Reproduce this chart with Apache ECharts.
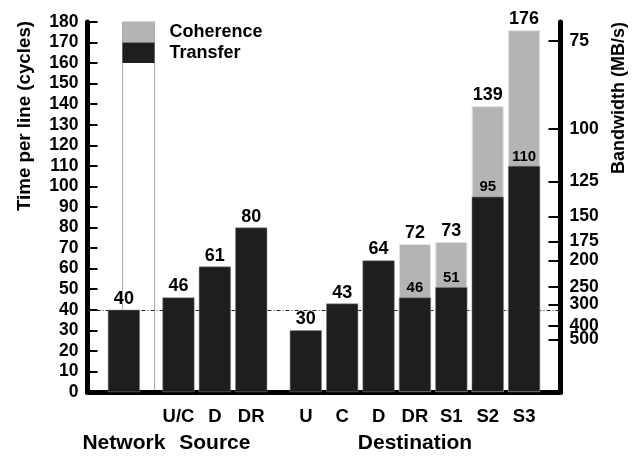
<!DOCTYPE html>
<html>
<head>
<meta charset="utf-8">
<script src="https://cdn.jsdelivr.net/npm/echarts@6/dist/echarts.min.js"></script>
<style>html,body{margin:0;padding:0;background:#fff}#c{width:634px;height:456px}</style>
</head>
<body>
<div id="c"></div>
<script>
// half-slot category positions (blank strings are spacing slots)
const categories = ['', '', '', '', '', 'U/C', '', 'D', '', 'DR', '', '', 'U', '', 'C', '', 'D', '', 'DR', '', 'S1', '', 'S2', '', 'S3', '', ''];
const groups     = ['', '', 'Network', '', '', '', '', 'Source', '', '', '', '', '', '', '', '', '', '', 'Destination', '', '', '', '', '', '', '', ''];
const transfer   = [null, null, 40, null, null, 46, null, 61, null, 80, null, null, 30, null, 43, null, 64, null, 46, null, 51, null, 95, null, 110, null, null];
const coherenceTotal = [null, null, null, null, null, null, null, null, null, null, null, null, null, null, null, null, null, null, 72, null, 73, null, 139, null, 176, null, null];
const bandwidthTicks = [75, 100, 125, 150, 175, 200, 250, 300, 400, 500];
const bandwidthConst = 12800; // MB/s * cycles
const referenceLine = 40;

const FONT = "'Liberation Sans', Arial, sans-serif";
const chart = echarts.init(document.getElementById('c'), null, {renderer: 'canvas'});
const toPos = b => bandwidthConst / b;
const bwPos = bandwidthTicks.map(toPos);
// labels 400 and 500 overlap in the original; put 400 on a second label layer
const bwPosMain = bandwidthTicks.filter(b => b !== 400).map(toPos);
const bwPosAlt = bandwidthTicks.filter(b => b === 400).map(toPos);

const transferData = transfer.map((v, i) => v == null ? null : {
  value: v,
  label: {fontSize: coherenceTotal[i] != null ? 15 : 18}
});

const rightLabel = {margin: 9, hideOverlap: false, fontFamily: FONT, fontWeight: 'bold', fontSize: 17.5, color: '#000',
  formatter: v => String(Math.round(bandwidthConst / v))};

chart.setOption({
  animation: false,
  backgroundColor: '#fff',
  textStyle: {fontFamily: FONT},
  grid: {left: 87.5, right: 73.5, top: 22, bottom: 64},
  legend: {
    data: ['Coherence', 'Transfer'],
    orient: 'vertical', left: 122.5, top: 22, padding: 0,
    itemWidth: 32, itemHeight: 20.5, itemGap: 0, icon: 'rect',
    itemStyle: {borderWidth: 0},
    selectedMode: false,
    textStyle: {fontFamily: FONT, fontWeight: 'bold', fontSize: 18, color: '#000', padding: [7, 0, 0, 10]}
  },
  graphic: [
    {type: 'rect', z: -1, shape: {x: 122.5, y: 22, width: 32, height: 370}, style: {fill: '#fff', stroke: '#aaa', lineWidth: 1}},
    {type: 'text', x: 25, y: 116, rotation: Math.PI / 2, scaleX: 1.04,
     style: {text: 'Time per line (cycles)', font: 'bold 18px ' + FONT, fill: '#000', align: 'center', verticalAlign: 'middle'}},
    {type: 'text', x: 619, y: 98, rotation: Math.PI / 2,
     style: {text: 'Bandwidth (MB/s)', font: 'bold 18px ' + FONT, fill: '#000', align: 'center', verticalAlign: 'middle'}}
  ],
  xAxis: [
    {type: 'category', data: categories, boundaryGap: false,
     axisLine: {show: true, lineStyle: {color: '#000', width: 5}},
     axisTick: {show: false},
     axisLabel: {interval: 0, margin: 15, fontFamily: FONT, fontWeight: 'bold', fontSize: 18.5, color: '#000'},
     splitLine: {show: false}},
    {type: 'category', data: groups, boundaryGap: false, position: 'bottom',
     axisLine: {show: false}, axisTick: {show: false},
     axisLabel: {interval: 0, margin: 41, fontFamily: FONT, fontWeight: 'bold', fontSize: 21, color: '#000'},
     splitLine: {show: false}}
  ],
  yAxis: [
    {type: 'value', min: 0, max: 180, interval: 10, position: 'left',
     axisLine: {show: true, lineStyle: {color: '#000', width: 5}},
     axisTick: {show: true, inside: true, length: 10, lineStyle: {color: '#000', width: 2}},
     axisLabel: {margin: 9, hideOverlap: false, showMinLabel: true, showMaxLabel: true, fontFamily: FONT, fontWeight: 'bold', fontSize: 17.5, color: '#000'},
     splitLine: {show: false}},
    {type: 'value', min: 0, max: 180, position: 'right',
     axisLine: {show: true, lineStyle: {color: '#000', width: 5}},
     axisTick: {show: true, inside: true, length: 12, customValues: bwPos, lineStyle: {color: '#000', width: 2}},
     axisLabel: Object.assign({customValues: bwPosMain, showMinLabel: true, showMaxLabel: true}, rightLabel),
     splitLine: {show: false}},
    {type: 'value', min: 0, max: 180, position: 'right', offset: 0,
     axisLine: {show: false}, axisTick: {show: false},
     axisLabel: Object.assign({customValues: bwPosAlt, showMinLabel: true, showMaxLabel: true}, rightLabel),
     splitLine: {show: false}}
  ],
  series: [
    {name: 'Coherence', type: 'bar', data: coherenceTotal, barWidth: 32, barGap: '-100%',
     itemStyle: {color: '#b4b4b4', borderColor: '#e0e0e0', borderWidth: 1},
     label: {show: true, position: 'top', distance: 2, fontFamily: FONT, fontWeight: 'bold', fontSize: 18, color: '#000'}},
    {name: 'Transfer', type: 'bar', data: transferData, barWidth: 32, barGap: '-100%',
     itemStyle: {color: '#1e1e1e', borderColor: '#888', borderWidth: 0.5},
     label: {show: true, position: 'top', distance: 2, fontFamily: FONT, fontWeight: 'bold', fontSize: 18, color: '#000'},
     markLine: {silent: true, symbol: 'none', z: 1, label: {show: false},
       lineStyle: {color: '#222', width: 1, type: [4, 2, 1, 2]},
       data: [{yAxis: referenceLine}]}}
  ]
});
</script>
</body>
</html>
